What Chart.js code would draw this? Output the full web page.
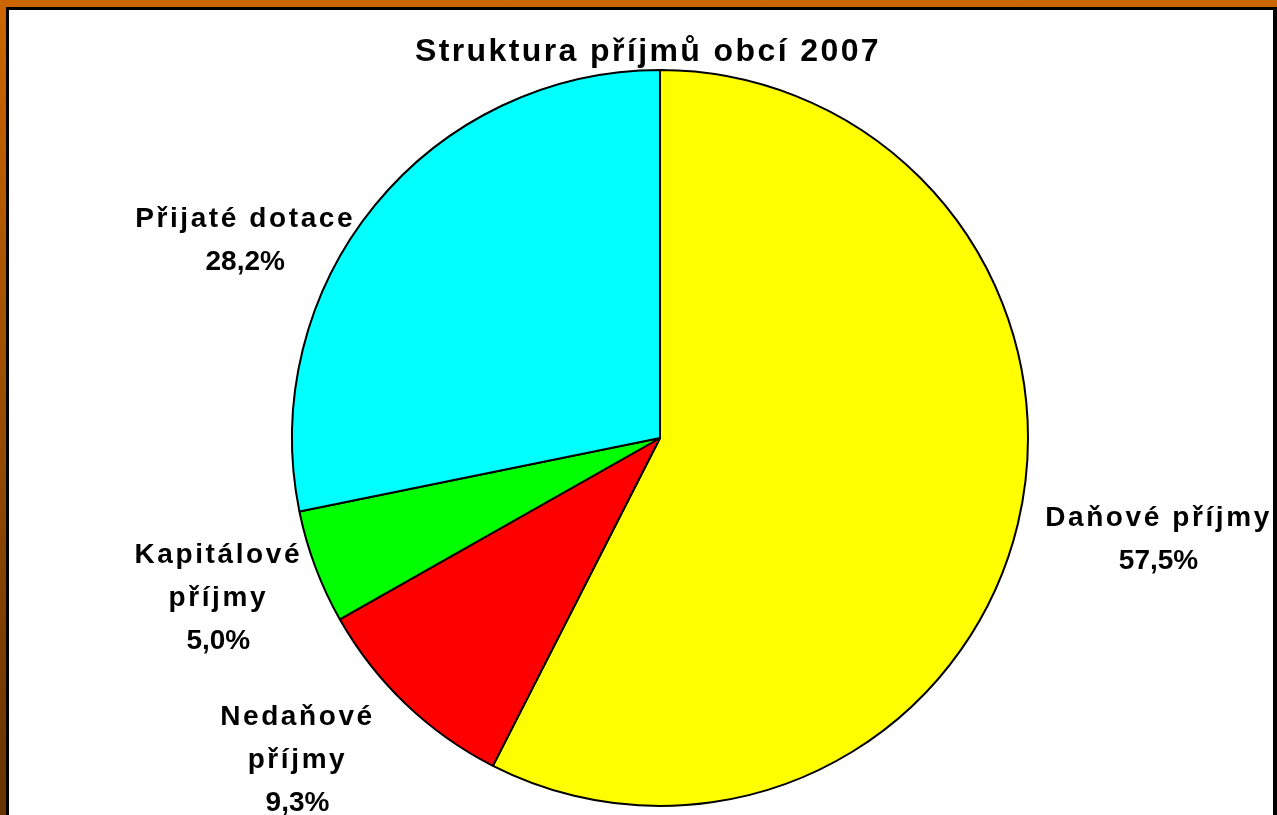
<!DOCTYPE html>
<html>
<head>
<meta charset="utf-8">
<title>Struktura příjmů obcí 2007</title>
<script src="https://cdn.jsdelivr.net/npm/chart.js@4/dist/chart.umd.min.js"></script>
<style>
    html, body { margin: 0; padding: 0; }
    body {
        width: 1277px;
        height: 815px;
        overflow: hidden;
        position: relative;
        background: linear-gradient(to bottom, #cc6600, #663300);
    }
    .frame {
        position: absolute;
        left: 6px;
        top: 7px;
        width: 1271px;
        height: 840px;
        box-sizing: border-box;
        border: 3px solid #000;
        border-right-width: 4px;
        background: #fff;
    }
    .wrap {
        position: absolute;
        left: 0;
        top: 0;
        width: 1277px;
        height: 815px;
    }
</style>
</head>
<body>
<div class="frame"></div>
<div class="wrap"><canvas id="pieChart"></canvas></div>
<script>
const chartTitle = 'Struktura příjmů obcí 2007';
const categories = ['Daňové příjmy', 'Nedaňové příjmy', 'Kapitálové příjmy', 'Přijaté dotace'];
const shares = [57.5, 9.3, 5.0, 28.2];
// how the category names wrap in the labels
const labelLines = [['Daňové příjmy'], ['Nedaňové', 'příjmy'], ['Kapitálové', 'příjmy'], ['Přijaté dotace']];

const sliceColors = ['#ffff00', '#ff0000', '#00ff00', '#00ffff'];

function fmtPct(v) {
    return v.toFixed(1).replace('.', ',') + '%';
}

// draws the name + percentage outside each slice
const pieLabels = {
    id: 'pieLabels',
    afterDatasetsDraw(chart, args, opts) {
        const ctx = chart.ctx;
        const meta = chart.getDatasetMeta(0);
        ctx.save();
        ctx.fillStyle = '#000';
        ctx.textAlign = 'center';
        ctx.textBaseline = 'alphabetic';
        ctx.font = opts.font;
        meta.data.forEach((arc, i) => {
            const p = arc.getProps(['x', 'y', 'startAngle', 'endAngle', 'outerRadius'], true);
            const mid = (p.startAngle + p.endAngle) / 2;
            const lines = labelLines[i].concat([fmtPct(shares[i])]);
            let w = 0;
            lines.forEach((t, j) => {
                ctx.letterSpacing = j < lines.length - 1 ? opts.nameSpacing : '0px';
                w = Math.max(w, ctx.measureText(t).width);
            });
            const h = lines.length * opts.lineHeight;
            const cos = Math.cos(mid), sin = Math.sin(mid);
            const d = p.outerRadius + opts.gap + Math.abs(cos) * w / 2 + Math.abs(sin) * h / 2;
            const nudge = opts.nudge[i] || [0, 0];
            const cx = p.x + cos * d + nudge[0];
            const cy = p.y + sin * d + nudge[1];
            lines.forEach((t, j) => {
                ctx.letterSpacing = j < lines.length - 1 ? opts.nameSpacing : '0px';
                ctx.fillText(t, cx, cy + (j - (lines.length - 1) / 2) * opts.lineHeight + opts.capHalf);
            });
        });
        ctx.restore();
    }
};

const titleText = {
    id: 'titleText',
    afterDraw(chart, args, opts) {
        const ctx = chart.ctx;
        ctx.save();
        ctx.fillStyle = '#000';
        ctx.font = opts.font;
        ctx.letterSpacing = opts.spacing;
        ctx.textAlign = 'center';
        ctx.textBaseline = 'alphabetic';
        ctx.fillText(chartTitle, opts.x, opts.y);
        ctx.restore();
    }
};

const ctx = document.getElementById('pieChart');
new Chart(ctx, {
    type: 'pie',
    data: {
        labels: categories,
        datasets: [{
            data: shares,
            backgroundColor: sliceColors,
            borderColor: '#000',
            borderWidth: 2
        }]
    },
    options: {
        responsive: true,
        maintainAspectRatio: false,
        animation: false,
        layout: {
            padding: { top: 69, bottom: 8, left: 43, right: 0 }
        },
        plugins: {
            legend: { display: false },
            tooltip: { enabled: false },
            titleText: {
                font: 'bold 32px "Liberation Sans", Arial, sans-serif',
                spacing: '2.4px',
                x: 648,
                y: 61
            },
            pieLabels: {
                font: 'bold 28px "Liberation Sans", Arial, sans-serif',
                nameSpacing: '2.6px',
                lineHeight: 43,
                capHalf: 10,
                gap: 10,
                nudge: [[14, -17], [-32, -25], [7, -10], [-35, 111]]
            }
        }
    },
    plugins: [pieLabels, titleText]
});
</script>
</body>
</html>
